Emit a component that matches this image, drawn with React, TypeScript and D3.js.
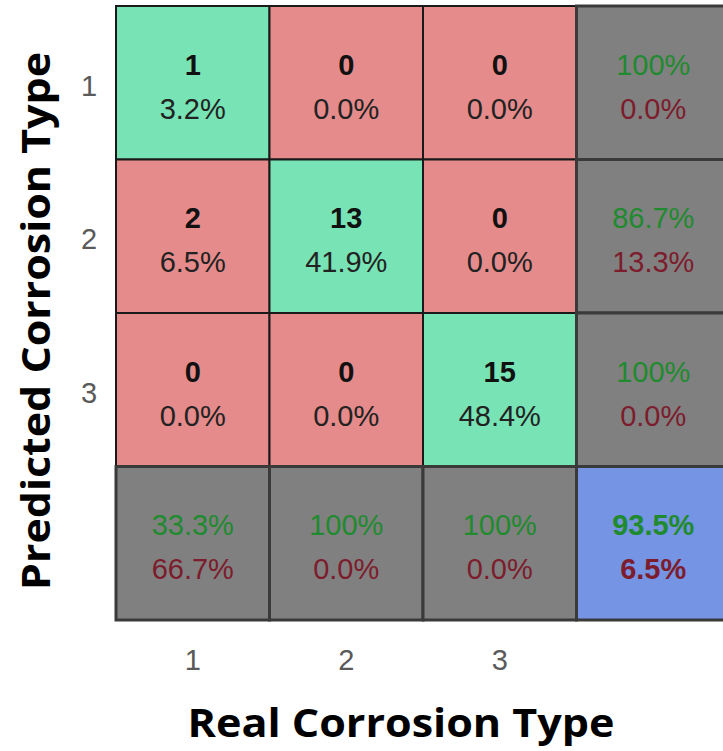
import { useMemo } from "react";
import * as d3 from "d3";

// classes on both axes
const classes = ["1", "2", "3"];

// counts[predicted][real]
const counts = [
  [1, 0, 0],
  [2, 13, 0],
  [0, 0, 15],
];

// per-row summary (predicted class precision / error)
const rowCorrect = ["100%", "86.7%", "100%"];
const rowWrong = ["0.0%", "13.3%", "0.0%"];

// per-column summary (real class recall / miss rate)
const colCorrect = ["33.3%", "100%", "100%"];
const colWrong = ["66.7%", "0.0%", "0.0%"];

// overall accuracy
const totalCorrect = "93.5%";
const totalWrong = "6.5%";

const W = 723;
const H = 751;
const margin = { left: 116, top: 6 };
const cell = 153.5;

const GREEN = "#78e3b5";
const RED = "#e58b8b";
const GREY = "#808080";
const BLUE = "#7594e3";
const TXT_GREEN = "#1f8a2e";
const TXT_RED = "#7c1c2c";

export default function App() {
  const total = d3.sum(counts.flat());
  const keys = [...classes, "sum"];

  const x = useMemo(
    () => d3.scaleBand().domain(keys).range([margin.left, margin.left + cell * 4]),
    []
  );
  const y = useMemo(
    () => d3.scaleBand().domain(keys).range([margin.top, margin.top + cell * 4]),
    []
  );
  const fmt = d3.format(".1f");

  const bw = x.bandwidth();
  const font = "'Liberation Sans', Arial, sans-serif";

  const cells: { r: string; c: string; fill: string; top: string; bottom: string; topColor: string; bottomColor: string; boldTop: boolean; boldBottom: boolean }[] = [];
  classes.forEach((r, i) => {
    classes.forEach((c, j) => {
      const v = counts[i][j];
      cells.push({
        r, c,
        fill: i === j ? GREEN : RED,
        top: String(v),
        bottom: `${fmt((v / total) * 100)}%`,
        topColor: "#111",
        bottomColor: "#222",
        boldTop: true,
        boldBottom: false,
      });
    });
    cells.push({ r, c: "sum", fill: GREY, top: rowCorrect[i], bottom: rowWrong[i], topColor: TXT_GREEN, bottomColor: TXT_RED, boldTop: false, boldBottom: false });
  });
  classes.forEach((c, j) => {
    cells.push({ r: "sum", c, fill: GREY, top: colCorrect[j], bottom: colWrong[j], topColor: TXT_GREEN, bottomColor: TXT_RED, boldTop: false, boldBottom: false });
  });
  cells.push({ r: "sum", c: "sum", fill: BLUE, top: totalCorrect, bottom: totalWrong, topColor: TXT_GREEN, bottomColor: TXT_RED, boldTop: true, boldBottom: true });

  return (
    <svg
      width={W}
      height={H}
      style={{ position: "absolute", left: 0, top: 0, background: "#fff" }}
    >
      {cells.map((d, k) => {
        const cx = x(d.c)! + bw / 2;
        const cy = y(d.r)! + bw / 2;
        const isSummary = d.r === "sum" || d.c === "sum";
        return (
          <g key={k}>
            <rect
              x={x(d.c)}
              y={y(d.r)}
              width={bw}
              height={bw}
              fill={d.fill}
              stroke={isSummary ? "#3a3a3a" : "#1a1a1a"}
              strokeWidth={isSummary ? 3 : 2}
            />
            <text
              x={cx}
              y={cy - 8}
              textAnchor="middle"
              fontFamily={font}
              fontSize={29}
              fontWeight={d.boldTop ? "bold" : "normal"}
              fill={d.topColor}
            >
              {d.top}
            </text>
            <text
              x={cx}
              y={cy + 36}
              textAnchor="middle"
              fontFamily={font}
              fontSize={29}
              fontWeight={d.boldBottom ? "bold" : "normal"}
              fill={d.bottomColor}
            >
              {d.bottom}
            </text>
          </g>
        );
      })}

      {/* row tick labels */}
      {classes.map((c) => (
        <text
          key={`ry${c}`}
          x={89}
          y={y(c)! + bw / 2 + 13}
          textAnchor="middle"
          fontFamily={font}
          fontSize={29}
          fill="#5a5a5a"
        >
          {c}
        </text>
      ))}

      {/* column tick labels */}
      {classes.map((c) => (
        <text
          key={`cx${c}`}
          x={x(c)! + bw / 2}
          y={670}
          textAnchor="middle"
          fontFamily={font}
          fontSize={29}
          fill="#5a5a5a"
        >
          {c}
        </text>
      ))}

      <text
        x={401}
        y={737}
        textAnchor="middle"
        fontFamily="'Open Sans', sans-serif"
        fontWeight="bold"
        fontSize={40}
        textLength={427}
        lengthAdjust="spacingAndGlyphs"
        fill="#000"
      >
        Real Corrosion Type
      </text>

      <text
        transform="translate(50, 321) rotate(-90)"
        textAnchor="middle"
        fontFamily="'Open Sans', sans-serif"
        fontWeight="bold"
        fontSize={40}
        textLength={538}
        lengthAdjust="spacingAndGlyphs"
        fill="#000"
      >
        Predicted Corrosion Type
      </text>
    </svg>
  );
}
